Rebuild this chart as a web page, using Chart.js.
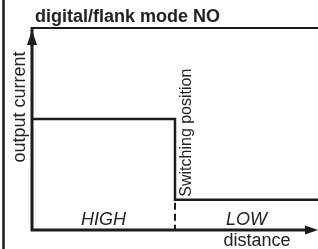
<!DOCTYPE html>
<html>
<head>
<meta charset="utf-8">
<script src="https://cdn.jsdelivr.net/npm/chart.js@4.4.1/dist/chart.umd.min.js"></script>
<style>
  html, body { margin: 0; padding: 0; background: #fff; }
  #wrap { width: 318px; height: 249px; position: relative; }
</style>
</head>
<body>
<div id="wrap"><canvas id="chart"></canvas></div>
<script>
  // output signal (step) over distance
  const distance = [0, 5, 5, 10];
  const current = [0.55, 0.55, 0.15, 0.15];
  const switchPoint = 5;
  const zoneLabels = ["HIGH", "LOW"];

  const titleText = "digital/flank mode NO";
  const yTitle = "output current";
  const xTitle = "distance";
  const switchText = "Switching position";

  const ink = "#1c1c1c";
  const font = "'Liberation Sans', Arial, Helvetica, sans-serif";

  const diagramPlugin = {
    id: "diagram",
    afterDraw(chart) {
      const { ctx, chartArea, scales } = chart;
      const x = scales.x;
      const y = scales.y;
      const x0 = x.getPixelForValue(0);
      const y0 = y.getPixelForValue(0);
      const top = chartArea.top;
      const right = chart.width;

      ctx.save();
      ctx.strokeStyle = ink;
      ctx.fillStyle = ink;
      ctx.lineCap = "butt";

      // left frame line
      ctx.lineWidth = 2.5;
      ctx.beginPath();
      ctx.moveTo(3.5, 0);
      ctx.lineTo(3.5, chart.height);
      ctx.stroke();

      // top line
      ctx.lineWidth = 2;
      ctx.beginPath();
      ctx.moveTo(x0, top);
      ctx.lineTo(right, top);
      ctx.stroke();

      // axes
      ctx.lineWidth = 3;
      ctx.beginPath();
      ctx.moveTo(x0, top - 1);
      ctx.lineTo(x0, y0);
      ctx.lineTo(right - 10, y0);
      ctx.stroke();

      // arrow heads
      ctx.beginPath();
      ctx.moveTo(x0, top + 2);
      ctx.lineTo(x0 - 5, top + 17);
      ctx.lineTo(x0 + 5, top + 17);
      ctx.closePath();
      ctx.fill();

      ctx.beginPath();
      ctx.moveTo(right, y0);
      ctx.lineTo(right - 13, y0 - 4.5);
      ctx.lineTo(right - 13, y0 + 4.5);
      ctx.closePath();
      ctx.fill();

      // dashed switching line
      const sx = x.getPixelForValue(switchPoint);
      ctx.lineWidth = 2;
      ctx.setLineDash([7, 4]);
      ctx.beginPath();
      ctx.moveTo(sx, y.getPixelForValue(current[2]) + 3);
      ctx.lineTo(sx, y0);
      ctx.stroke();
      ctx.setLineDash([]);

      // texts
      ctx.fillStyle = "#222";
      ctx.font = "bold 18px " + font;
      ctx.textAlign = "left";
      ctx.textBaseline = "alphabetic";
      ctx.fillText(titleText, x0 + 3, 22);

      ctx.font = "italic 18px " + font;
      ctx.textAlign = "center";
      const mids = [
        (x.getPixelForValue(0) + sx) / 2,
        (sx + x.getPixelForValue(10)) / 2,
      ];
      zoneLabels.forEach((label, i) => {
        ctx.fillText(label, mids[i], y0 - 5);
      });

      ctx.font = "18px " + font;
      ctx.fillText(xTitle, 257, y0 + 16);

      ctx.save();
      ctx.translate(25, 107);
      ctx.rotate(-Math.PI / 2);
      ctx.fillText(yTitle, 0, 0);
      ctx.restore();

      ctx.save();
      ctx.translate(sx + 16, y.getPixelForValue(current[2]) - 3);
      ctx.rotate(-Math.PI / 2);
      ctx.font = "16px " + font;
      ctx.textAlign = "left";
      ctx.fillText(switchText, 0, 0);
      ctx.restore();

      ctx.restore();
    },
  };

  new Chart(document.getElementById("chart"), {
    type: "scatter",
    data: {
      datasets: [
        {
          data: distance.map((d, i) => ({ x: d, y: current[i] })),
          showLine: true,
          borderColor: ink,
          borderWidth: 2.5,
          pointRadius: 0,
          tension: 0,
          fill: false,
        },
      ],
    },
    options: {
      responsive: true,
      maintainAspectRatio: false,
      animation: false,
      layout: {
        padding: { left: 32, right: 0, top: 28, bottom: 19 },
      },
      plugins: {
        legend: { display: false },
        tooltip: { enabled: false },
      },
      scales: {
        x: { type: "linear", display: false, min: 0, max: 10 },
        y: { type: "linear", display: false, min: 0, max: 1 },
      },
    },
    plugins: [diagramPlugin],
  });
</script>
</body>
</html>
